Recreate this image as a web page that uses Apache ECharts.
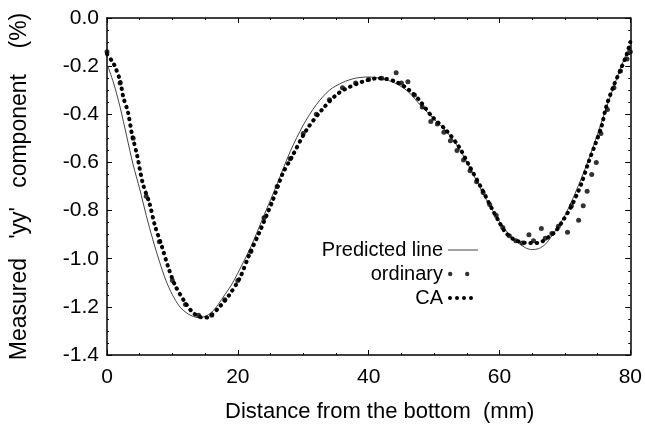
<!DOCTYPE html>
<html>
<head>
<meta charset="utf-8">
<script src="https://cdn.jsdelivr.net/npm/echarts@6/dist/echarts.min.js"></script>
<style>html,body{margin:0;padding:0;background:#fff;}#c{width:645px;height:428px;}</style>
</head>
<body>
<div id="c"></div>
<script>
// ---- data ----
var xTicks = [0, 20, 40, 60, 80];
var yTicks = [-1.4, -1.2, -1.0, -0.8, -0.6, -0.4, -0.2, 0.0];

var predX = [0, 1, 2, 3, 4, 5, 6, 7, 8, 9, 10, 11, 12, 13, 14, 15, 16, 17, 18, 19, 20, 22, 24, 26, 28, 30, 32, 34, 36, 38, 40, 42, 44, 46, 48, 50, 52, 54, 56, 58, 60, 62, 64, 65, 66, 67, 68, 70, 72, 74, 76, 78, 79, 80];
var predY = [-0.19, -0.27, -0.37, -0.49, -0.61, -0.71, -0.82, -0.92, -1.01, -1.09, -1.15, -1.195, -1.222, -1.238, -1.245, -1.24, -1.222, -1.19, -1.15, -1.11, -1.06, -0.95, -0.82, -0.69, -0.555, -0.445, -0.36, -0.30, -0.268, -0.25, -0.245, -0.252, -0.27, -0.305, -0.365, -0.42, -0.475, -0.55, -0.65, -0.755, -0.845, -0.915, -0.955, -0.962, -0.958, -0.94, -0.905, -0.82, -0.70, -0.56, -0.40, -0.245, -0.175, -0.11];

var caX = [0, 0.8, 1.2, 2, 2.5, 3.2, 3.8, 4.6, 5.5, 6.5, 7.3, 8.4, 9.3, 10.4, 11.9, 13, 14, 15, 15.7, 17.2, 18.7, 20.3, 21.8, 23.3, 25.3, 26.8, 28.3, 30.5, 32.9, 35.5, 39, 41.6, 44.2, 46.2, 47.7, 49.7, 51.8, 53.8, 55.3, 57.3, 58.8, 59.9, 60.9, 62.2, 63.2, 64.5, 65.5, 66.4, 67.5, 68.6, 69.8, 70.9, 71.8, 72.5, 73.6, 74.7, 75.6, 76.3, 77.4, 78.5, 79.4, 80];
var caY = [-0.15, -0.18, -0.20, -0.26, -0.33, -0.39, -0.48, -0.57, -0.69, -0.77, -0.86, -0.95, -1.03, -1.11, -1.18, -1.22, -1.24, -1.245, -1.24, -1.20, -1.15, -1.08, -0.98, -0.89, -0.76, -0.65, -0.575, -0.465, -0.38, -0.31, -0.265, -0.25, -0.265, -0.30, -0.34, -0.41, -0.465, -0.535, -0.61, -0.71, -0.79, -0.845, -0.89, -0.92, -0.93, -0.935, -0.935, -0.93, -0.91, -0.885, -0.837, -0.787, -0.735, -0.69, -0.60, -0.52, -0.45, -0.37, -0.285, -0.215, -0.155, -0.10];

var ordX = [0, 2, 4, 6, 8, 10, 12, 14, 16, 18, 20, 22, 24, 26, 28, 30, 32, 34, 36, 38, 40, 42, 44.2, 45, 46, 47, 48.2, 49.5, 50.5, 51.5, 52.5, 53.5, 54.5, 55.5, 56.5, 57.5, 58.5, 59.5, 60.5, 61.5, 62.5, 63.5, 64.5, 65.2, 66.4, 67, 68, 69, 70.4, 71, 72.1, 72.8, 73.4, 74.1, 74.8, 75.5, 76.5, 77.5, 78.5, 79.5, 80];
var ordY = [-0.14, -0.27, -0.50, -0.74, -0.93, -1.09, -1.19, -1.235, -1.235, -1.17, -1.09, -0.97, -0.83, -0.70, -0.585, -0.48, -0.40, -0.34, -0.29, -0.27, -0.255, -0.25, -0.227, -0.27, -0.265, -0.32, -0.37, -0.43, -0.44, -0.475, -0.51, -0.55, -0.59, -0.635, -0.68, -0.725, -0.775, -0.82, -0.87, -0.905, -0.925, -0.935, -0.90, -0.925, -0.874, -0.915, -0.895, -0.865, -0.89, -0.78, -0.84, -0.78, -0.72, -0.65, -0.60, -0.48, -0.38, -0.29, -0.22, -0.17, -0.14];

var names = ['Predicted line', 'ordinary', 'CA'];

function zip(a, b) { return a.map(function (v, i) { return [v, b[i]]; }); }

var FONT = 'Liberation Sans, Arial, Helvetica, sans-serif';
var chart = echarts.init(document.getElementById('c'), null, { renderer: 'canvas' });

function frameAxis(extra) {
  var base = {
    axisLine: { show: true, onZero: false, lineStyle: { color: '#000', width: 1.5 } },
    axisTick: { show: true, inside: true, length: 5, lineStyle: { color: '#000', width: 1 } },
    minorTick: { show: true, splitNumber: 4, length: 2, lineStyle: { color: '#000', width: 1 } },
    splitLine: { show: false }
  };
  for (var k in extra) base[k] = extra[k];
  return base;
}

var option = {
  animation: false,
  backgroundColor: '#fff',
  textStyle: { fontFamily: FONT, color: '#000' },
  grid: { left: 107, right: 13, top: 18, bottom: 72, containLabel: false },
  legend: {
    orient: 'vertical',
    align: 'right',
    right: 162,
    top: 235,
    itemGap: 4,
    itemWidth: 30,
    itemHeight: 6,
    textStyle: { fontFamily: FONT, fontSize: 20, color: '#000' },
    data: [
      { name: names[0], icon: 'path://M0,2.5L30,2.5L30,3.5L0,3.5ZM0,0M30,6', itemStyle: { color: '#444' } },
      { name: names[1], icon: 'path://M0,3a2.2,2.2 0 1,0 4.4,0a2.2,2.2 0 1,0 -4.4,0zM17,3a2.2,2.2 0 1,0 4.4,0a2.2,2.2 0 1,0 -4.4,0zM0,0M30,6', itemStyle: { color: '#000' } },
      { name: names[2], icon: 'path://M0,3a2,2 0 1,0 4,0a2,2 0 1,0 -4,0zM7,3a2,2 0 1,0 4,0a2,2 0 1,0 -4,0zM14,3a2,2 0 1,0 4,0a2,2 0 1,0 -4,0zM21,3a2,2 0 1,0 4,0a2,2 0 1,0 -4,0zM0,0M30,6', itemStyle: { color: '#000' } }
    ]
  },
  xAxis: [
    frameAxis({
      type: 'value', min: 0, max: 80, interval: 20, position: 'bottom',
      name: 'Distance from the bottom  (mm)', nameLocation: 'middle', nameGap: 46,
      nameTextStyle: { fontFamily: FONT, fontSize: 22, color: '#000', padding: [0, 0, 0, 22] },
      axisLabel: { show: true, margin: 12, fontSize: 21, color: '#000', fontFamily: FONT,
        formatter: function (v) { return xTicks.indexOf(v) >= 0 ? String(v) : ''; } }
    }),
    frameAxis({
      type: 'value', min: 0, max: 80, interval: 20, position: 'top',
      axisLabel: { show: false }
    })
  ],
  yAxis: [
    frameAxis({
      type: 'value', min: -1.4, max: 0, interval: 0.2, position: 'left',
      name: "Measured   'yy'   component    (%)", nameLocation: 'middle', nameGap: 76,
      nameTextStyle: { fontFamily: FONT, fontSize: 23, color: '#000' },
      axisLabel: { show: true, margin: 8, fontSize: 21, color: '#000', fontFamily: FONT,
        formatter: function (v) {
          var t = yTicks.filter(function (k) { return Math.abs(k - v) < 1e-6; });
          return t.length ? t[0].toFixed(1) : '';
        } }
    }),
    frameAxis({
      type: 'value', min: -1.4, max: 0, interval: 0.2, position: 'right',
      axisLabel: { show: false }
    })
  ],
  series: [
    {
      name: names[0], type: 'line', data: zip(predX, predY), smooth: 0.3,
      showSymbol: false, symbol: 'none', z: 3,
      lineStyle: { color: '#444', width: 1 }, itemStyle: { color: '#444' }
    },
    {
      name: names[1], type: 'scatter', data: zip(ordX, ordY),
      symbol: 'circle', symbolSize: 5, z: 4,
      itemStyle: { color: '#000' }
    },
    {
      name: names[2], type: 'line', data: zip(caX, caY), smooth: 0.3,
      showSymbol: false, symbol: 'none', z: 5,
      lineStyle: { color: '#000', width: 4, type: [0.5, 5.8], cap: 'round' },
      itemStyle: { color: '#000' }
    }
  ]
};
chart.setOption(option);
</script>
</body>
</html>
